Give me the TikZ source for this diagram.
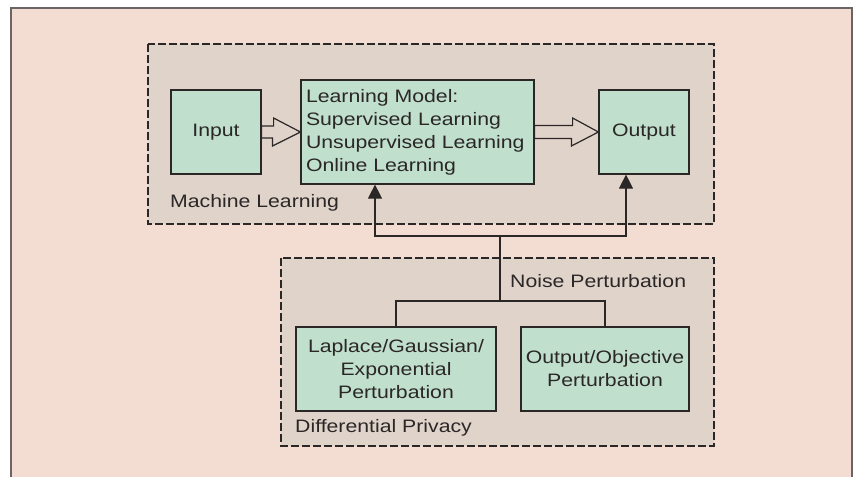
\documentclass[tikz,border=0pt]{standalone}
\usepackage{fontspec}
\setmainfont{Liberation Sans}[FakeStretch=1.18]
\usetikzlibrary{calc,arrows.meta}
\definecolor{bgpink}{HTML}{F3DDD3}
\definecolor{grpbox}{HTML}{E0D3CA}
\definecolor{boxgreen}{HTML}{C0DFCC}
\definecolor{ink}{HTML}{2B2727}
\definecolor{framegray}{HTML}{6A6464}
\begin{document}
\begin{tikzpicture}[x=1pt,y=-1pt,
  every node/.style={text=ink,font=\fontsize{18pt}{23pt}\selectfont},
  gbox/.style={draw=ink,fill=boxgreen,line width=1.2pt,inner sep=0pt,align=center},
  grp/.style={draw=ink,fill=grpbox,line width=1.2pt,dash pattern=on 8pt off 3pt},
  lbl/.style={anchor=west,inner sep=0pt},
  conn/.style={draw=ink,line width=1.2pt},
  hollow/.style={draw=ink,fill=grpbox,line width=1.2pt,line join=miter}
]
\useasboundingbox (0,0) rectangle (857,477);
\fill[white] (0,0) rectangle (857,477);
\fill[bgpink] (11,8) rectangle (852,477);
\draw[framegray,line width=1.6pt] (11,477) -- (11,8) -- (852,8) -- (852,477);

% group boxes
\draw[grp] (148,44) rectangle (714,224);
\draw[grp] (281,258) rectangle (714,446);

% nodes
\node[gbox,minimum width=90pt,minimum height=84pt] (inp) at (216,132) {Input};
\node[gbox,minimum width=233pt,minimum height=104pt,align=left,text width=223pt] (lm) at (417.5,132)
  {Learning Model:\\Supervised Learning\\Unsupervised Learning\\Online Learning};
\node[gbox,minimum width=90pt,minimum height=84pt] (out) at (644,132) {Output};
\node[gbox,minimum width=200pt,minimum height=84pt] (lap) at (396,369)
  {Laplace/Gaussian/\\Exponential\\Perturbation};
\node[gbox,minimum width=168pt,minimum height=84pt] (obj) at (605,369)
  {Output/Objective\\Perturbation};

\node[lbl] (mll) at (170,203) {Machine Learning};
\node[lbl] (npl) at (510,281) {Noise Perturbation};
\node[lbl] (dpl) at (295,428) {Differential Privacy};

% hollow arrows
\draw[hollow] ($(inp.east)+(0,-6)$) -- ++(12,0) -- ++(0,-8) -- (lm.west) -- ++(-28,14) -- ++(0,-8) -- ($(inp.east)+(0,6)$) -- cycle;
\draw[hollow] ($(lm.east)+(0,-6.5)$) -- ++(38,0) -- ++(0,-7.5) -- (out.west) -- ++(-27,14) -- ++(0,-7.5) -- ($(lm.east)+(0,6.5)$) -- cycle;

% noise tree
\coordinate (split) at (500,301);
\coordinate (join) at (500,236);
\draw[conn] (lap.north) |- (split) -| (obj.north);
\draw[conn] (split) -- (join);
\draw[conn,-{Triangle[width=14pt,length=14pt]}] (join) -| ($(lm.south)+(-42.5,0)$);
\draw[conn,-{Triangle[width=14pt,length=14pt]}] (join) -| ($(out.south)+(-18,0)$);
\end{tikzpicture}
\end{document}
